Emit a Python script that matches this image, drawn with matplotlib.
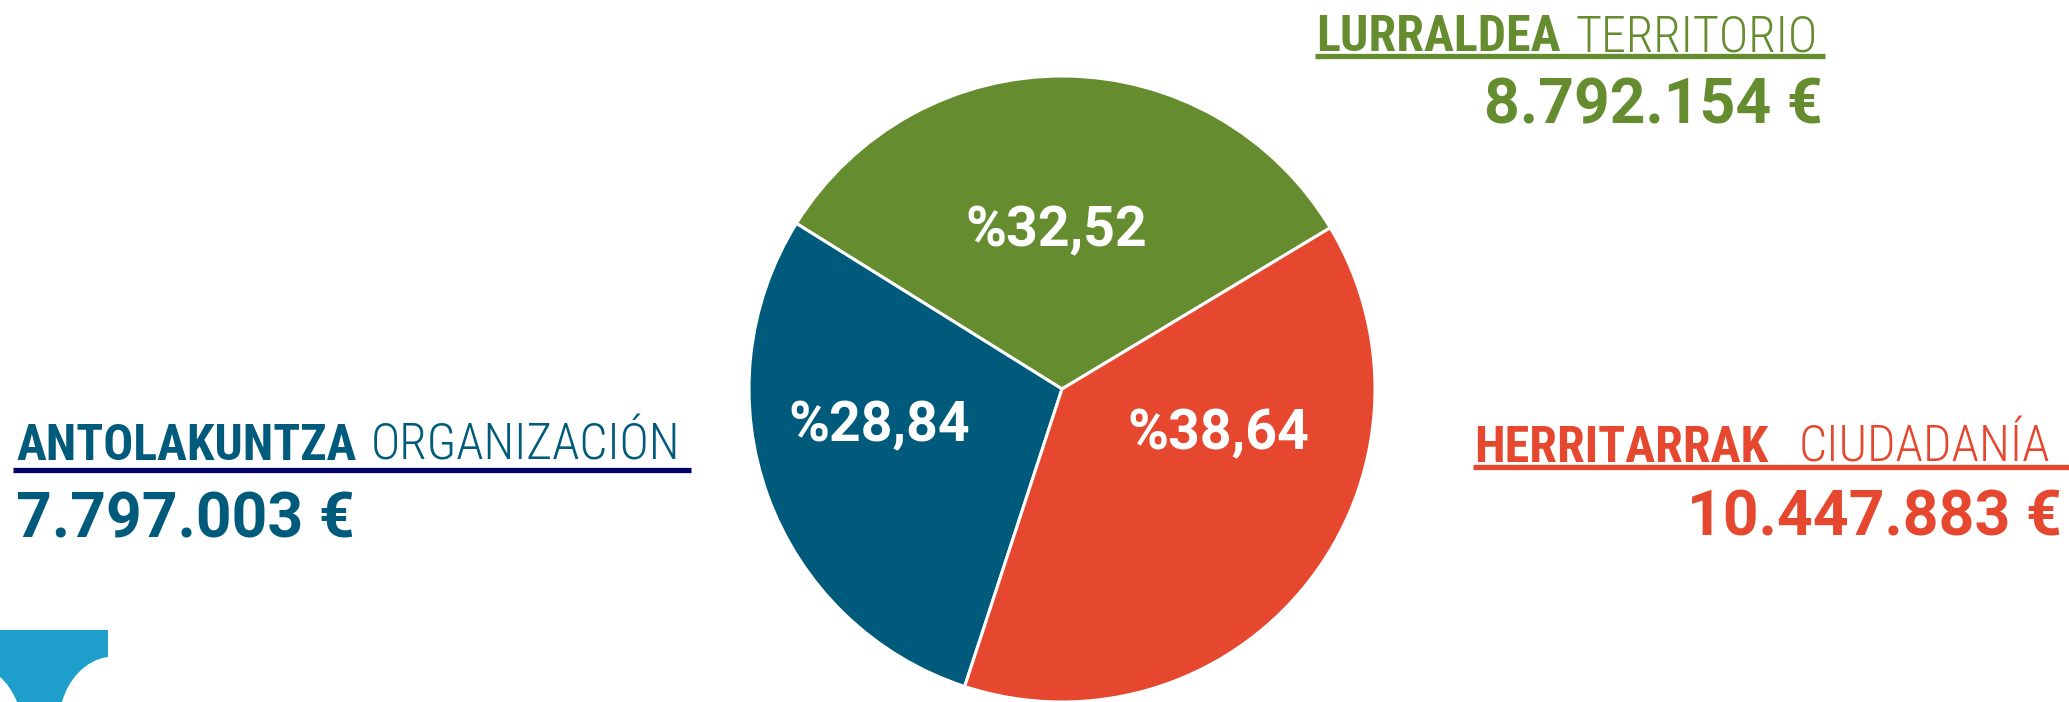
import matplotlib
matplotlib.use("Agg")
import os
import matplotlib.pyplot as plt
from matplotlib import font_manager
from matplotlib.font_manager import FontProperties
from matplotlib.path import Path
from matplotlib.patches import PathPatch

# data
names_eu = ["LURRALDEA", "ANTOLAKUNTZA", "HERRITARRAK"]
names_es = ["TERRITORIO", "ORGANIZACIÓN", "CIUDADANÍA"]
amounts = [8792154, 7797003, 10447883]
colors = ["#658C2F", "#005A7B", "#E6472F"]
underline_colors = ["#658C2F", "#000066", "#E6472F"]

W, H = 2069, 702


def pick_font(candidates, fallback_family, fallback_weight):
    files = {os.path.basename(f.fname): f.fname for f in font_manager.fontManager.ttflist}
    for c in candidates:
        for base, path in files.items():
            if base.startswith(c):
                return FontProperties(fname=path)
    return FontProperties(family=fallback_family, weight=fallback_weight)


bold_cond = pick_font(["RobotoCondensed-Bold", "OpenSans-CondBold", "NotoSans-CondensedBold",
                       "LiberationSansNarrow-Bold", "DejaVuSansCondensed-Bold"],
                      "Liberation Sans", "bold")
light_cond = pick_font(["RobotoCondensed-Light", "OpenSans-CondLight", "NotoSans-CondensedLight",
                        "LiberationSansNarrow-Regular", "DejaVuSansCondensed.ttf"],
                       "Liberation Sans", "normal")

fig = plt.figure(figsize=(W / 100, H / 100), dpi=100)
fig.patch.set_facecolor("white")

# background axes in pixel units (y down)
bg = fig.add_axes([0, 0, 1, 1])
bg.set_xlim(0, W)
bg.set_ylim(H, 0)
bg.axis("off")

# pie
cx, cy, r = 1062, 389, 313
pax = fig.add_axes([(cx - r) / W, (H - cy - r) / H, 2 * r / W, 2 * r / H])
total = sum(amounts)
pax.pie(amounts, colors=colors, startangle=31, counterclock=True,
        wedgeprops=dict(edgecolor="white", linewidth=2.2))
pax.set_xlim(-1, 1)
pax.set_ylim(-1, 1)
pax.axis("off")

# percentage labels (pie units)
label_pos = [(-0.017, 0.457), (-0.585, -0.168), (0.499, -0.193)]
for v, (x, y) in zip(amounts, label_pos):
    txt = "%" + f"{100 * v / total:.2f}".replace(".", ",")
    pax.text(x, y, txt, ha="center", va="baseline", color="white",
             fontsize=40, fontweight="bold", family="Roboto")

# header blocks: header x, baseline, header width, underline y, x0, x1, value x, value baseline, align
blocks = [
    (1316, 51, 507, 56, 1315, 1825, 1823, 123, "right"),
    (16, 460, 666, 470, 13, 691, 16, 537, "left"),
    (1474, 462, 581, 467, 1473, 2069, 2062, 535, "right"),
]
gaps = [15, 15, 30]
base_size = 36

fig.canvas.draw()
renderer = fig.canvas.get_renderer()
px_per_unit = fig.dpi / 100  # bg axes: 1 data unit = 1 pixel

for i, (hx, hb, hw, uy, ux0, ux1, vx, vb, al) in enumerate(blocks):
    c = colors[i]
    t1 = bg.text(hx, hb, names_eu[i], ha="left", va="baseline", color=c,
                 fontproperties=bold_cond, fontsize=base_size)
    t2 = bg.text(hx, hb, names_es[i], ha="left", va="baseline", color=c,
                 fontproperties=light_cond, fontsize=base_size)
    w1 = t1.get_window_extent(renderer).width
    w2 = t2.get_window_extent(renderer).width
    size = min(base_size, base_size * (hw - gaps[i]) / (w1 + w2))
    t1.set_fontsize(size)
    t2.set_fontsize(size)
    w1 = t1.get_window_extent(renderer).width
    t2.set_x(hx + w1 / px_per_unit + gaps[i])
    bg.plot([ux0, ux1], [uy, uy], color=underline_colors[i], lw=3.8,
            solid_capstyle="butt")
    val = f"{amounts[i]:,}".replace(",", ".") + " €"
    bg.text(vx, vb, val, ha=al, va="baseline", color=c,
            fontsize=45, fontweight="bold", family="Roboto")

# partial logo, bottom-left corner
verts = [(0, 630), (108, 630), (108, 657),
         (85, 660), (68, 680), (62, 702),
         (17, 702),
         (12, 690), (6, 682), (0, 677),
         (0, 630)]
codes = [Path.MOVETO, Path.LINETO, Path.LINETO,
         Path.CURVE4, Path.CURVE4, Path.CURVE4,
         Path.LINETO,
         Path.CURVE4, Path.CURVE4, Path.CURVE4,
         Path.CLOSEPOLY]
bg.add_patch(PathPatch(Path(verts, codes), facecolor="#1E9FCB", edgecolor="none"))

fig.savefig("out.png", dpi=100)
